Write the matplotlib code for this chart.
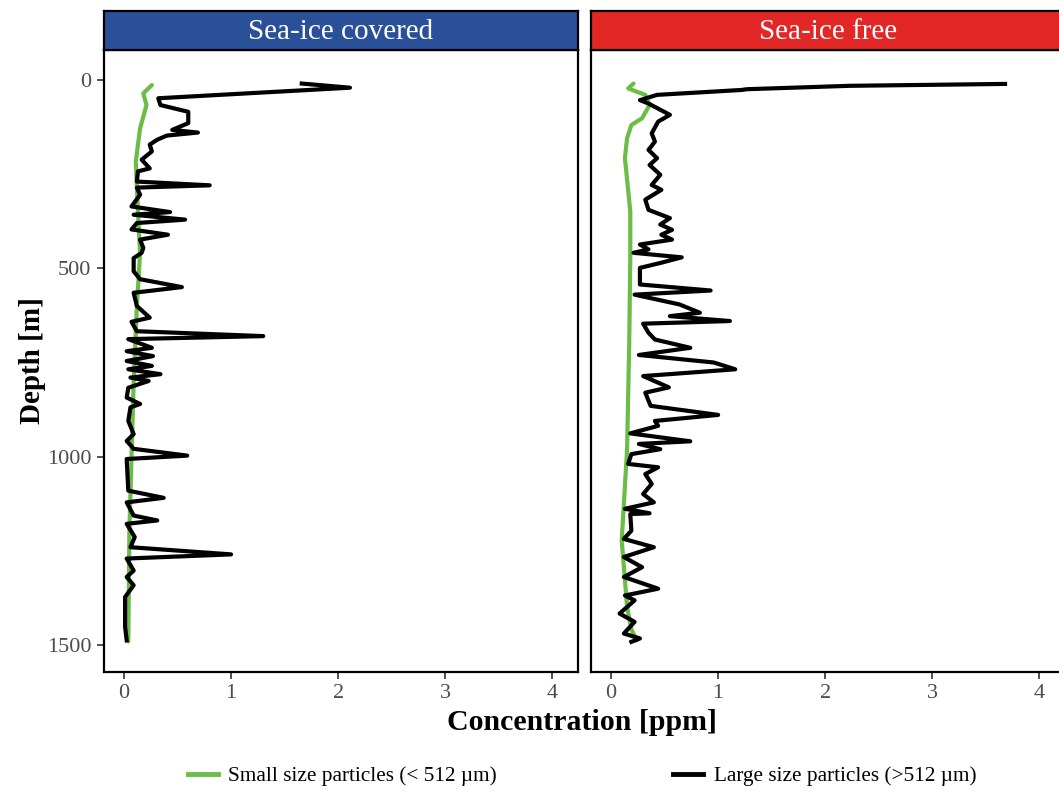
"""
Depth profiles of particle concentration, sea-ice covered vs sea-ice free.

Output: out.png
"""

import matplotlib.pyplot as plt
from matplotlib.lines import Line2D

plt.rcParams["font.family"] = ["Liberation Serif", "DejaVu Serif"]

PANELS = ["Sea-ice covered", "Sea-ice free"]
STRIP_COLORS = ["#2A5099", "#E32726"]
GREEN = "#6ABD45"

# Sea-ice covered: large particles (>512 um)
cov_large_depth = [10, 21, 49, 67, 85, 115, 133, 140, 148, 159, 172, 190, 212, 235,
                   243, 270, 280, 286, 305, 336, 351, 358, 371, 380, 397, 411, 424,
                   446, 459, 473, 508, 529, 550, 565, 600, 631, 642, 667, 680, 688,
                   711, 720, 733, 746, 759, 768, 781, 790, 799, 817, 843, 860, 869,
                   905, 940, 958, 979, 997, 1006, 1090, 1109, 1121, 1156, 1169, 1178,
                   1213, 1240, 1259, 1270, 1302, 1319, 1341, 1372, 1451, 1487]
cov_large_conc = [1.66, 2.11, 0.32, 0.34, 0.60, 0.60, 0.45, 0.69, 0.40, 0.31, 0.24,
                  0.26, 0.165, 0.24, 0.13, 0.12, 0.80, 0.12, 0.15, 0.07, 0.43, 0.09,
                  0.57, 0.12, 0.07, 0.41, 0.15, 0.18, 0.165, 0.09, 0.09, 0.15, 0.54,
                  0.09, 0.12, 0.24, 0.07, 0.12, 1.30, 0.04, 0.26, 0.025, 0.27, 0.025,
                  0.26, 0.04, 0.34, 0.06, 0.23, 0.04, 0.025, 0.15, 0.06, 0.04, 0.09,
                  0.025, 0.09, 0.59, 0.025, 0.04, 0.37, 0.025, 0.09, 0.31, 0.025,
                  0.10, 0.06, 1.00, 0.025, 0.09, 0.025, 0.09, 0.01, 0.01, 0.025]

# Sea-ice covered: small particles (<512 um)
cov_small_depth = [14, 36, 67, 129, 217, 350, 459, 600, 800, 1000, 1200, 1490]
cov_small_conc = [0.26, 0.18, 0.21, 0.15, 0.11, 0.13, 0.15, 0.12, 0.09, 0.07, 0.05, 0.04]

# Sea-ice free: large particles (>512 um)
free_large_depth = [11, 16, 25, 27, 40, 54, 63, 93, 111, 142, 164, 186, 208, 226,
                    252, 279, 292, 318, 345, 367, 384, 398, 411, 424, 437, 450, 459,
                    471, 486, 499, 543, 559, 570, 596, 618, 627, 640, 647, 671, 689,
                    711, 730, 750, 768, 786, 816, 830, 865, 889, 905, 918, 938, 959,
                    966, 980, 993, 1019, 1028, 1046, 1072, 1099, 1121, 1138, 1150,
                    1152, 1196, 1218, 1240, 1266, 1293, 1319, 1350, 1368, 1381, 1416,
                    1438, 1469, 1482, 1491]
free_large_conc = [3.68, 2.23, 1.27, 1.22, 0.43, 0.27, 0.35, 0.55, 0.44, 0.38, 0.41,
                   0.35, 0.43, 0.36, 0.46, 0.38, 0.47, 0.32, 0.35, 0.55, 0.46, 0.57,
                   0.47, 0.57, 0.27, 0.35, 0.21, 0.66, 0.46, 0.27, 0.27, 0.93, 0.22,
                   0.64, 0.83, 0.55, 1.11, 0.30, 0.35, 0.41, 0.74, 0.26, 0.96, 1.16,
                   0.30, 0.54, 0.32, 0.37, 1.00, 0.41, 0.44, 0.18, 0.74, 0.26, 0.46,
                   0.19, 0.16, 0.44, 0.32, 0.38, 0.30, 0.40, 0.13, 0.36, 0.18, 0.19,
                   0.12, 0.40, 0.12, 0.29, 0.12, 0.44, 0.13, 0.22, 0.08, 0.22, 0.12,
                   0.27, 0.19]

# Sea-ice free: small particles (<512 um)
free_small_depth = [10, 23, 40, 67, 102, 120, 155, 208, 349, 472, 700, 980, 1222,
                    1398, 1458, 1487]
free_small_conc = [0.21, 0.16, 0.32, 0.36, 0.29, 0.19, 0.15, 0.13, 0.18, 0.18, 0.17,
                   0.15, 0.10, 0.15, 0.19, 0.24]

W, H = 1059, 792
fig = plt.figure(figsize=(W / 100, H / 100), dpi=100)

panel_x = [104, 591]
panel_w = 474
ax_top, ax_bot = 50, 672
strip_top = 11

data = [
    (cov_small_conc, cov_small_depth, cov_large_conc, cov_large_depth),
    (free_small_conc, free_small_depth, free_large_conc, free_large_depth),
]

for i, (x0, title) in enumerate(zip(panel_x, PANELS)):
    ax = fig.add_axes([x0 / W, 1 - ax_bot / H, panel_w / W, (ax_bot - ax_top) / H])
    sc, sd, lc, ld = data[i]
    ax.plot(sc, sd, color=GREEN, linewidth=3, solid_capstyle="round", zorder=2)
    ax.plot(lc, ld, color="black", linewidth=3, zorder=3)
    ax.set_xlim(-0.187, 4.24)
    ax.set_ylim(1571, -79)
    ax.set_xticks([0, 1, 2, 3, 4])
    ax.set_yticks([0, 500, 1000, 1500])
    ax.tick_params(direction="out", length=5, width=1.2, color="#333333",
                   labelsize=16, labelcolor="#4D4D4D", pad=4)
    for sp in ax.spines.values():
        sp.set_linewidth(1.6)
        sp.set_color("black")
    if i == 1:
        ax.tick_params(labelleft=False, left=False)
    else:
        ax.set_ylabel("Depth [m]", fontsize=21, fontweight="bold", labelpad=1)

    # facet strip
    sax = fig.add_axes([x0 / W, 1 - ax_top / H, panel_w / W, (ax_top - strip_top) / H])
    sax.set_facecolor(STRIP_COLORS[i])
    sax.set_xticks([])
    sax.set_yticks([])
    for sp in sax.spines.values():
        sp.set_linewidth(1.6)
        sp.set_color("black")
    sax.text(0.5, 0.46, title, color="white", fontsize=21,
             ha="center", va="center", transform=sax.transAxes)

fig.text(582 / W, 1 - 722 / H, "Concentration [ppm]", fontsize=21.5,
         fontweight="bold", ha="center", va="center")

handles = [
    Line2D([0], [0], color=GREEN, linewidth=3.5, label="Small size particles (< 512 \u00b5m)"),
    Line2D([0], [0], color="black", linewidth=3.5, label="Large size particles (>512 \u00b5m)"),
]
fig.legend(handles=handles, loc="center", bbox_to_anchor=(582 / W, 1 - 776 / H),
           ncol=2, frameon=False, fontsize=15.3, handlelength=1.4, columnspacing=8.3,
           handletextpad=0.5)

fig.savefig("out.png", dpi=100)
